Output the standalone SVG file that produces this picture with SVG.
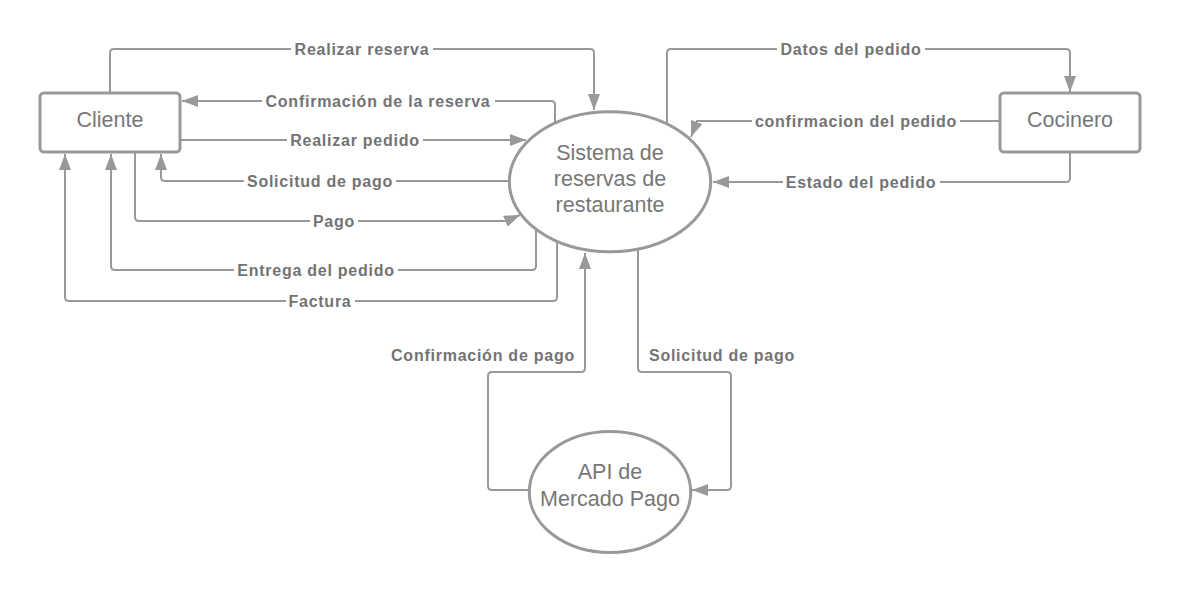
<svg xmlns="http://www.w3.org/2000/svg" width="1180" height="592" viewBox="0 0 1180 592">
<defs>
<marker id="arr" markerUnits="userSpaceOnUse" markerWidth="16" markerHeight="12" refX="16" refY="6" orient="auto" viewBox="0 0 16 12">
<path d="M0,0 L16,6 L0,12 z" fill="#999999"/>
</marker>
<style>
.box{fill:#ffffff;stroke:#999999;stroke-width:3}
.ell{fill:#ffffff;stroke:#999999;stroke-width:3}
.node{font-family:"Liberation Sans",Arial,sans-serif;font-size:21.5px;fill:#777777;text-anchor:middle}
.conn{fill:none;stroke:#999999;stroke-width:2}
.arrow{marker-end:url(#arr)}
.lbl{font-family:"Liberation Sans",Arial,sans-serif;font-weight:bold;font-size:16px;letter-spacing:0.75px;fill:#737373;text-anchor:middle}
.bg{fill:#ffffff}
</style>
</defs>
<rect width="1180" height="592" fill="#ffffff"/>

<g id="connectors">
<path class="conn arrow" d="M110,92 V53 Q110,49 114,49 H590 Q594,49 594,53 V110"/>
<path class="conn arrow" d="M555,122 V105 Q555,101 551,101 H182"/>
<path class="conn arrow" d="M180,140 H526"/>
<path class="conn arrow" d="M510,181 H165 Q161,181 161,177 V154"/>
<path class="conn arrow" d="M135,152 V217 Q135,221 139,221 H506 L520,215"/>
<path class="conn arrow" d="M536,229 V266 Q536,270 532,270 H115 Q111,270 111,266 V154"/>
<path class="conn arrow" d="M557,241 V297 Q557,301 553,301 H69 Q65,301 65,297 V154"/>
<path class="conn arrow" d="M667,124 V53 Q667,49 671,49 H1066 Q1070,49 1070,53 V92"/>
<path class="conn arrow" d="M1000,121 H697 L691,137"/>
<path class="conn arrow" d="M1070,152 V178 Q1070,182 1066,182 H713"/>
<path class="conn arrow" d="M529,490 H492 Q488,490 488,486 V376 Q488,372 492,372 H581 Q585,372 585,368 V253"/>
<path class="conn arrow" d="M638,249 V368 Q638,372 642,372 H727 Q731,372 731,376 V486 Q731,490 727,490 H692"/>

<rect class="bg" x="291" y="40" width="142" height="18"/>
<text class="lbl" x="362" y="54.5">Realizar reserva</text>
<rect class="bg" x="262" y="92" width="233" height="18"/>
<text class="lbl" x="378" y="106.5">Confirmación de la reserva</text>
<rect class="bg" x="287" y="131" width="136" height="18"/>
<text class="lbl" x="355" y="145.5">Realizar pedido</text>
<rect class="bg" x="244" y="172" width="152" height="18"/>
<text class="lbl" x="320" y="186.5">Solicitud de pago</text>
<rect class="bg" x="310" y="212" width="48" height="18"/>
<text class="lbl" x="334" y="226.5">Pago</text>
<rect class="bg" x="234" y="261" width="164" height="18"/>
<text class="lbl" x="316" y="275.5">Entrega del pedido</text>
<rect class="bg" x="286" y="292" width="69" height="18"/>
<text class="lbl" x="320" y="306.5">Factura</text>
<rect class="bg" x="777" y="40" width="148" height="18"/>
<text class="lbl" x="851" y="54.5">Datos del pedido</text>
<rect class="bg" x="752" y="112" width="208" height="18"/>
<text class="lbl" x="856" y="126.5">confirmacion del pedido</text>
<rect class="bg" x="783" y="173" width="157" height="18"/>
<text class="lbl" x="861" y="187.5">Estado del pedido</text>
<text class="lbl" x="483" y="360.5">Confirmación de pago</text>
<text class="lbl" x="722" y="360.5">Solicitud de pago</text>
</g>

<g id="cliente">
<rect class="box" x="40" y="93" width="140" height="59" rx="4"/>
<text class="node" x="110" y="127">Cliente</text>
</g>
<g id="cocinero">
<rect class="box" x="1000" y="93" width="140" height="59" rx="4"/>
<text class="node" x="1070" y="127">Cocinero</text>
</g>
<g id="sistema">
<ellipse class="ell" cx="610" cy="181.7" rx="100.7" ry="70"/>
<text class="node" x="610" y="159.5">Sistema de</text>
<text class="node" x="610" y="186">reservas de</text>
<text class="node" x="610" y="212">restaurante</text>
</g>
<g id="api">
<ellipse class="ell" cx="610" cy="492" rx="80.7" ry="60.5"/>
<text class="node" x="610" y="479">API de</text>
<text class="node" x="610" y="505.5">Mercado Pago</text>
</g>
</svg>
